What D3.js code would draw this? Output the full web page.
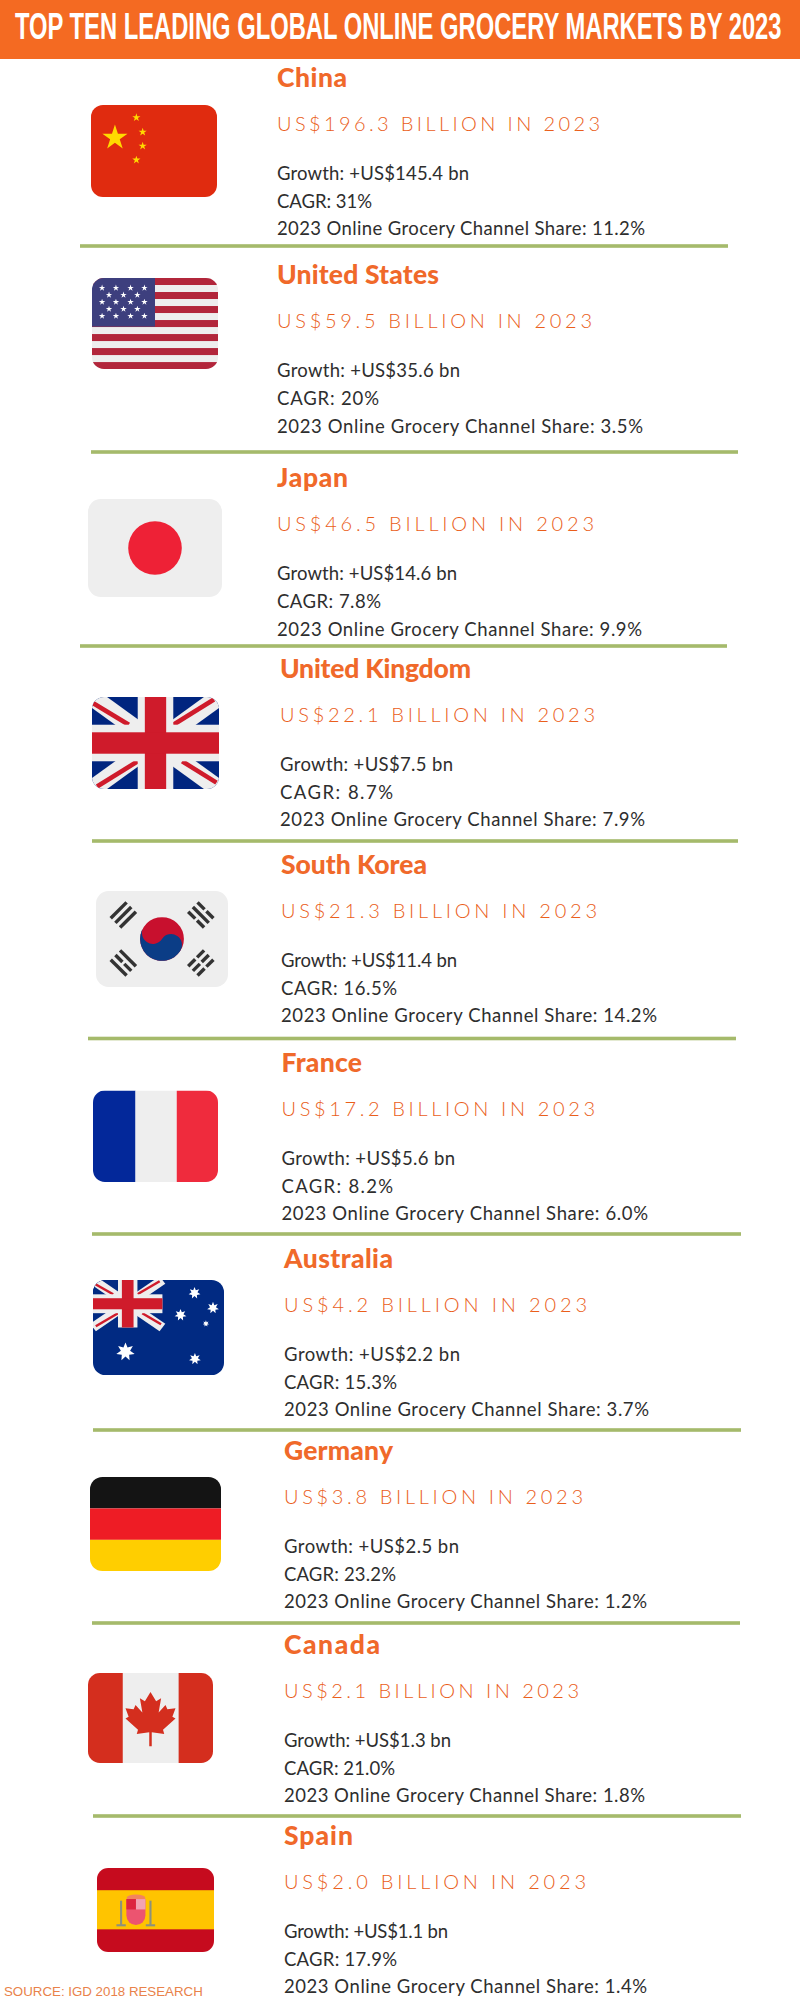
<!DOCTYPE html>
<html><head><meta charset="utf-8">
<style>html,body{margin:0;padding:0;background:#fff}svg{display:block}</style>
<script src="https://cdn.jsdelivr.net/npm/d3@7/dist/d3.min.js"></script>
</head><body><div id="c"></div>
<script>
// ---- data ----
const chartTitle = "TOP TEN LEADING GLOBAL ONLINE GROCERY MARKETS BY 2023";
const sourceNote = "SOURCE: IGD 2018 RESEARCH";
const countries = ["China","United States","Japan","United Kingdom","South Korea","France","Australia","Germany","Canada","Spain"];
const marketValues = ["196.3","59.5","46.5","22.1","21.3","17.2","4.2","3.8","2.1","2.0"];
const growthValues = ["145.4","35.6","14.6","7.5","11.4","5.6","2.2","2.5","1.3","1.1"];
const cagrValues = ["31","20","7.8","8.7","16.5","8.2","15.3","23.2","21.0","17.9"];
const shareValues = ["11.2","3.5","9.9","7.9","14.2","6.0","3.7","1.2","1.8","1.4"];

// ---- layout ----
const W = 800, H = 2000;
const rowBaseline = [86,283.5,486.5,677,873,1071,1267,1459,1653,1844];
const rowLeft = [277,277,277,280,281,281.5,284,284,284,284];
const nameEnd = [347,439,348,471,427,362,393,393,380,353];
const valueEnd = [600,592,594,595,597,595,587,583,579,586];
const growthEnd = [469,460,457,453,457,455,460,459,451,448];
const cagrEnd = [372,379,381,393,397,393,397,396,395,397];
const shareEnd = [645,643,642,645,657,648,649,647,645,647];
const flagBoxes = [[91,105,217,197],[92,278,218,369],[88,499,222,597],[92,697,219,789],[96,891,228,987],[93,1090.5,218,1182],[93,1280,224,1375],[90,1477,221,1571],[88,1673,213,1763],[97,1868,214,1952]];
const ruleLines = [[80,728,246],[91,738,452],[80,727,646],[92,738,841],[88,736,1038.5],[92,741,1234],[93,741,1430],[92,740,1623],[93,741,1816]];
const yOf = d3.scaleOrdinal(countries, rowBaseline);
const xOf = d3.scaleOrdinal(countries, rowLeft);

const ORANGE = "#F0692A", VALUE = "#EA5E1A", BODY = "#2E2E2E", GREEN = "#A5BA6B", WHITE = "#EEEEEE";
const FONT = "Lato, sans-serif";

const svg = d3.select("#c").append("svg").attr("width",W).attr("height",H).attr("viewBox",[0,0,W,H]);
svg.append("rect").attr("width",W).attr("height",H).attr("fill","#fff");
svg.append("rect").attr("width",W).attr("height",59).attr("fill","#F46A22");
const titleText = svg.append("text").text(chartTitle)
  .attr("font-family","'Liberation Sans Narrow', 'Liberation Sans', sans-serif").attr("font-weight",700)
  .attr("font-size",37).attr("fill","#fff");
const titleScale = 767 / titleText.node().getComputedTextLength();
titleText.attr("transform",`translate(15,39) scale(${titleScale},1)`);

ruleLines.forEach(r=>svg.append("rect").attr("x",r[0]).attr("y",r[2]-1.8).attr("width",r[1]-r[0]).attr("height",3.6).attr("fill",GREEN));

const rows = svg.selectAll("g.row").data(countries).join("g").attr("class","row");
const at = (arr,d)=>arr[countries.indexOf(d)];
function line(sel, dy, fn, size, weight, fill, ends){
  sel.append("text").text(fn).attr("x",d=>xOf(d)).attr("y",d=>yOf(d)+dy)
    .attr("font-family",FONT).attr("font-size",size).attr("font-weight",weight)
    .attr("fill",fill)
    .attr("textLength",d=>at(ends,d)-xOf(d)).attr("lengthAdjust","spacing");
}
line(rows,0.5,d=>d,26.5,900,ORANGE,nameEnd);
line(rows,44.5,d=>`US$${at(marketValues,d)} BILLION IN 2023`,20,300,VALUE,valueEnd);
line(rows,93.5,d=>`Growth: +US$${at(growthValues,d)} bn`,18.5,400,BODY,growthEnd);
line(rows,121.5,d=>`CAGR: ${at(cagrValues,d)}%`,18.5,400,BODY,cagrEnd);
line(rows,149,d=>`2023 Online Grocery Channel Share: ${at(shareValues,d)}%`,18.5,400,BODY,shareEnd);

svg.append("text").text(sourceNote).attr("x",4).attr("y",1996)
  .attr("font-family","'Liberation Sans', Arial, sans-serif").attr("font-size",13.3).attr("fill","#E9824A");

// ---- flags, each drawn in a 100 x 73 box ----
const defs = svg.append("defs");
defs.append("clipPath").attr("id","flagClip").append("rect").attr("width",100).attr("height",73).attr("rx",9.5).attr("ry",9.5);
function star(g,cx,cy,R,fill,n=5,ratio=0.382){
  const pts=d3.range(n*2).map(i=>{
    const r=i%2?R*ratio:R, a=-Math.PI/2+i*Math.PI/n;
    return [cx+r*Math.cos(a),cy+r*Math.sin(a)];
  });
  g.append("polygon").attr("points",pts.map(p=>p.join(",")).join(" ")).attr("fill",fill);
}
const R=(g,x,y,w,h,f)=>g.append("rect").attr("x",x).attr("y",y).attr("width",w).attr("height",h).attr("fill",f);
const L=(g,a,b,c,d,w,s)=>g.append("line").attr("x1",a).attr("y1",b).attr("x2",c).attr("y2",d).attr("stroke",s).attr("stroke-width",w);
function union(g,blue,red){
  R(g,0,0,100,73,blue);
  L(g,0,0,100,73,14,WHITE); L(g,100,0,0,73,14,WHITE);
  [[1,5,29,22],[64,22,96,2],[4,71,36,51],[71,51,98,68]].forEach(s=>L(g,s[0],s[1],s[2],s[3],3.6,red));
  R(g,36,0,28,73,WHITE); R(g,0,22,100,29,WHITE);
  R(g,41.6,0,16.8,73,red); R(g,0,28,100,17,red);
}
const draw = {
  "China":g=>{
    R(g,0,0,100,73,"#E02B0F");
    star(g,19,26,10.5,"#FFDA00");
    [[36,10],[41,21.5],[41,32.5],[36,43.6]].forEach(p=>star(g,p[0],p[1],3.4,"#FFDA00"));
  },
  "United States":g=>{
    R(g,0,0,100,73,WHITE);
    d3.range(0,13,2).forEach(i=>R(g,0,i*5.62,100,5.62,"#B2263B"));
    R(g,0,0,50,39,"#3D3F7E");
    [8,19,30.6,41.6].forEach(x=>[8,19.3,30.5].forEach(y=>star(g,x,y,2.7,"#fff")));
    [13.5,25,36].forEach(x=>[13.6,24.9].forEach(y=>star(g,x,y,2.7,"#fff")));
  },
  "Japan":g=>{ R(g,0,0,100,73,WHITE); g.append("circle").attr("cx",50).attr("cy",36.5).attr("r",20).attr("fill","#EE2136"); },
  "United Kingdom":g=>union(g,"#00257F","#CF1B2B"),
  "South Korea":g=>{
    R(g,0,0,100,73,WHITE);
    const c=g.append("g").attr("transform","translate(50,36.5) rotate(33.7)"), r=16.6;
    c.append("circle").attr("r",r).attr("fill","#C8102E");
    c.append("path").attr("fill","#0B3D86").attr("d",`M${-r},0 A${r/2},${r/2} 0 0 0 0,0 A${r/2},${r/2} 0 0 1 ${r},0 A${r},${r} 0 0 1 ${-r},0 Z`);
    const bars=[[1,1,1],[0,1,0],[1,0,1],[0,0,0]];
    [[20.7,18.2,-45],[79.4,18.2,45],[20.7,54.7,45],[79.4,54.7,-45]].forEach((p,k)=>{
      const t=g.append("g").attr("transform",`translate(${p[0]},${p[1]}) rotate(${p[2]})`);
      bars[k].forEach((solid,i)=>{
        const y=(i-1)*5-1.3;
        if(solid) R(t,-8.5,y,17,2.6,"#333");
        else { R(t,-8.5,y,7.5,2.6,"#333"); R(t,1,y,7.5,2.6,"#333"); }
      });
    });
  },
  "France":g=>{ R(g,0,0,34,73,"#03289A"); R(g,34,0,33,73,WHITE); R(g,67,0,33,73,"#EF2B3D"); },
  "Australia":g=>{
    R(g,0,0,100,73,"#012A82");
    union(g.append("g").attr("transform","scale(0.53,0.5)"),"#012A82","#CF1B2B");
    [[77.5,10,4.6],[91.6,21.4,4.6],[66.8,26.9,4.6],[86.2,33.5,2.5],[77.8,60.6,4.6],[24.8,55.2,7.2]].forEach(s=>star(g,s[0],s[1],s[2],"#fff",7,0.5));
  },
  "Germany":g=>{ R(g,0,0,100,24.4,"#141414"); R(g,0,24.4,100,24.4,"#EE1C25"); R(g,0,48.8,100,24.2,"#FFCE00"); },
  "Canada":g=>{
    R(g,0,0,100,73,"#D42E1E"); R(g,27.8,0,44.7,73,WHITE);
    const half=[[0,15.4],[4.5,23],[8.5,20.5],[6.5,32],[12,26],[13.5,29.5],[20,28.5],[17.5,35.5],[20,37],[10,46],[11,49.5],[1,48],[1,59.5]];
    const pts=half.concat(half.slice(1).reverse().map(p=>[-p[0],p[1]])).map(p=>[50+p[0],p[1]]);
    g.append("polygon").attr("points",pts.map(p=>p.join(",")).join(" ")).attr("fill","#D42E1E");
  },
  "Spain":g=>{
    R(g,0,0,100,73,"#C60B1E"); R(g,0,19.3,100,34,"#FFC400");
    [20.6,45.7].forEach(x=>{ R(g,x-0.9,28.4,1.8,21,"#8C917E"); R(g,x-4,48.9,8,1.8,"#8C917E"); });
    g.append("ellipse").attr("cx",33.3).attr("cy",26).attr("rx",8).attr("ry",3).attr("fill","#F2845F");
    g.append("path").attr("d","M25.1,27 H41.4 V41 A8.15,8.6 0 0 1 25.1,41 Z").attr("fill","#EC5470");
    R(g,25.1,27,8.2,9,"#DC2540"); R(g,33.3,27,8.1,9,"#F2A3B3");
  }
};
countries.forEach((c,i)=>{
  const [x0,y0,x1,y1]=flagBoxes[i];
  const g=svg.append("g").attr("transform",`translate(${x0},${y0}) scale(${(x1-x0)/100},${(y1-y0)/73})`)
    .append("g").attr("clip-path","url(#flagClip)");
  draw[c](g);
});
</script></body></html>
